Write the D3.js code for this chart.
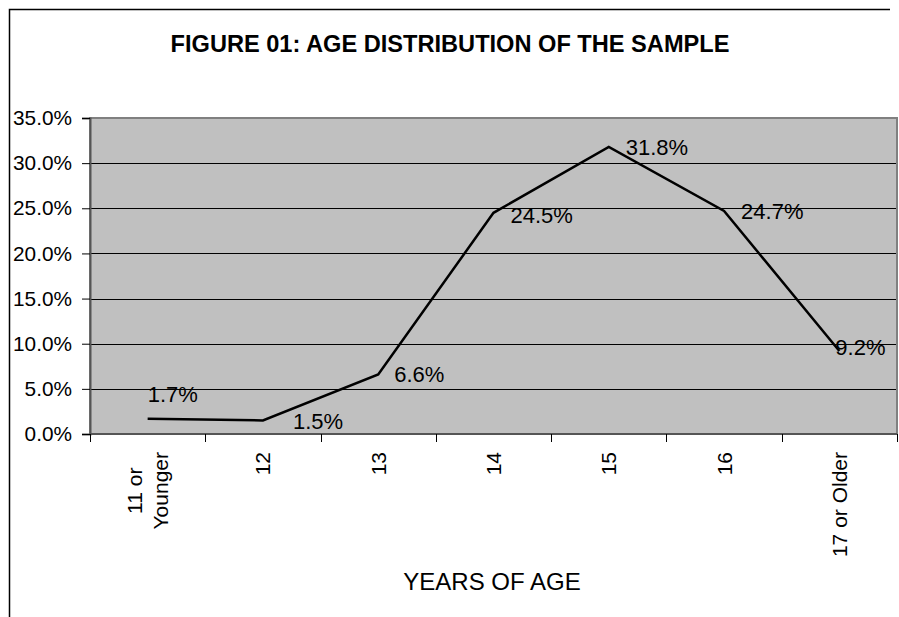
<!DOCTYPE html>
<html>
<head>
<meta charset="utf-8">
<script src="https://cdn.jsdelivr.net/npm/d3@7/dist/d3.min.js"></script>
<style>
  html, body { margin: 0; padding: 0; background: #fff; }
  svg { display: block; font-family: "Liberation Sans", Arial, sans-serif; }
</style>
</head>
<body>
<svg id="chart" width="899" height="617"></svg>
<script>
// ---- data ----
const categories = ["11 or Younger", "12", "13", "14", "15", "16", "17 or Older"];
const categoryLines = [["11 or", "Younger"], ["12"], ["13"], ["14"], ["15"], ["16"], ["17 or Older"]];
const values = [1.7, 1.5, 6.6, 24.5, 31.8, 24.7, 9.2];
const yTicks = [0, 5, 10, 15, 20, 25, 30, 35];
const titleText = "FIGURE 01: AGE DISTRIBUTION OF THE SAMPLE";
const xTitle = "YEARS OF AGE";

// label offsets (styling, in px relative to the point)
const labelOffsets = [[0, -24], [30, 1], [16, 0], [17, 2], [17, 0], [17, 0], [-4, -4]];

const svg = d3.select("#chart");
const W = 899, H = 617;
const plot = { left: 90, right: 897, top: 118, bottom: 434 };

// outer frame (top and left edges visible)
svg.append("path")
  .attr("d", `M9.5,${H} L9.5,9.5 L890,9.5`)
  .attr("fill", "none").attr("stroke", "#000").attr("stroke-width", 1.5);

const x = d3.scaleBand().domain(categories).range([plot.left, plot.right]).padding(0);
const y = d3.scaleLinear().domain([0, 35]).range([plot.bottom, plot.top]);

// plot area
svg.append("rect")
  .attr("x", plot.left).attr("y", plot.top)
  .attr("width", plot.right - plot.left).attr("height", plot.bottom - plot.top)
  .attr("fill", "#C0C0C0");

// gridlines
svg.append("g").selectAll("line")
  .data(yTicks.filter(t => t > 0 && t < 35))
  .join("line")
  .attr("x1", plot.left).attr("x2", plot.right)
  .attr("y1", d => Math.round(y(d)) + 0.5).attr("y2", d => Math.round(y(d)) + 0.5)
  .attr("stroke", "#000").attr("stroke-width", 1);

// plot border
svg.append("rect")
  .attr("x", plot.left).attr("y", plot.top)
  .attr("width", plot.right - plot.left).attr("height", plot.bottom - plot.top)
  .attr("fill", "none").attr("stroke", "#808080").attr("stroke-width", 2);

// y axis
const yAxis = d3.axisLeft(y).tickValues(yTicks).tickSize(8).tickPadding(10)
  .tickFormat(d => d.toFixed(1) + "%");
const gy = svg.append("g").attr("transform", `translate(${plot.left},0)`).call(yAxis);
gy.select(".domain").attr("stroke", "#555").attr("stroke-width", 2);
gy.selectAll(".tick line").attr("stroke", "#000");
gy.selectAll(".tick text")
  .attr("font-size", "20.8px").attr("fill", "#000")
  .attr("font-family", "'Liberation Sans', Arial, sans-serif");

// x axis (ticks at category boundaries)
const boundaries = categories.map(c => x(c)).concat([plot.right]);
svg.append("line")
  .attr("x1", plot.left).attr("x2", plot.right)
  .attr("y1", plot.bottom).attr("y2", plot.bottom)
  .attr("stroke", "#555").attr("stroke-width", 2);
svg.append("g").selectAll("line")
  .data(boundaries).join("line")
  .attr("x1", d => Math.round(d) + 0.5).attr("x2", d => Math.round(d) + 0.5)
  .attr("y1", plot.bottom).attr("y2", plot.bottom + 8)
  .attr("stroke", "#000").attr("stroke-width", 1);

// x tick labels (rotated)
const fs = 21, lineH = 26, topY = 452;
const xl = svg.append("g").attr("font-size", fs + "px").attr("fill", "#000");
categoryLines.forEach((lines, i) => {
  const cx = x(categories[i]) + x.bandwidth() / 2;
  if (lines.length === 1) {
    xl.append("text")
      .attr("transform", `translate(${cx + 7.5},${topY}) rotate(-90)`)
      .attr("text-anchor", "end")
      .text(lines[0]);
  } else {
    const g = xl.append("g");
    const texts = lines.map((ln, j) => g.append("text")
      .attr("text-anchor", "middle")
      .text(ln));
    const maxW = d3.max(texts, t => t.node().getComputedTextLength());
    const n = lines.length;
    texts.forEach((t, j) => {
      const bx = cx + 7.5 + (j - (n - 1) / 2) * lineH;
      t.attr("transform", `translate(${bx},${topY + maxW / 2}) rotate(-90)`);
    });
  }
});

// line
const line = d3.line()
  .x((d, i) => x(categories[i]) + x.bandwidth() / 2)
  .y(d => y(d));
svg.append("path")
  .datum(values)
  .attr("d", line)
  .attr("fill", "none").attr("stroke", "#000").attr("stroke-width", 2.5)
  .attr("stroke-linejoin", "miter");

// data labels
svg.append("g").selectAll("text")
  .data(values).join("text")
  .attr("x", (d, i) => x(categories[i]) + x.bandwidth() / 2 + labelOffsets[i][0])
  .attr("y", (d, i) => y(d) + labelOffsets[i][1])
  .attr("dy", "0.35em")
  .attr("font-size", "22px").attr("fill", "#000")
  .text(d => d.toFixed(1) + "%");

// title
svg.append("text")
  .attr("x", 450).attr("y", 52)
  .attr("text-anchor", "middle")
  .attr("font-size", "23.6px").attr("font-weight", "bold").attr("fill", "#000")
  .text(titleText);

// x axis title
svg.append("text")
  .attr("x", 492).attr("y", 590)
  .attr("text-anchor", "middle")
  .attr("font-size", "24px").attr("fill", "#000")
  .text(xTitle);
</script>
</body>
</html>
